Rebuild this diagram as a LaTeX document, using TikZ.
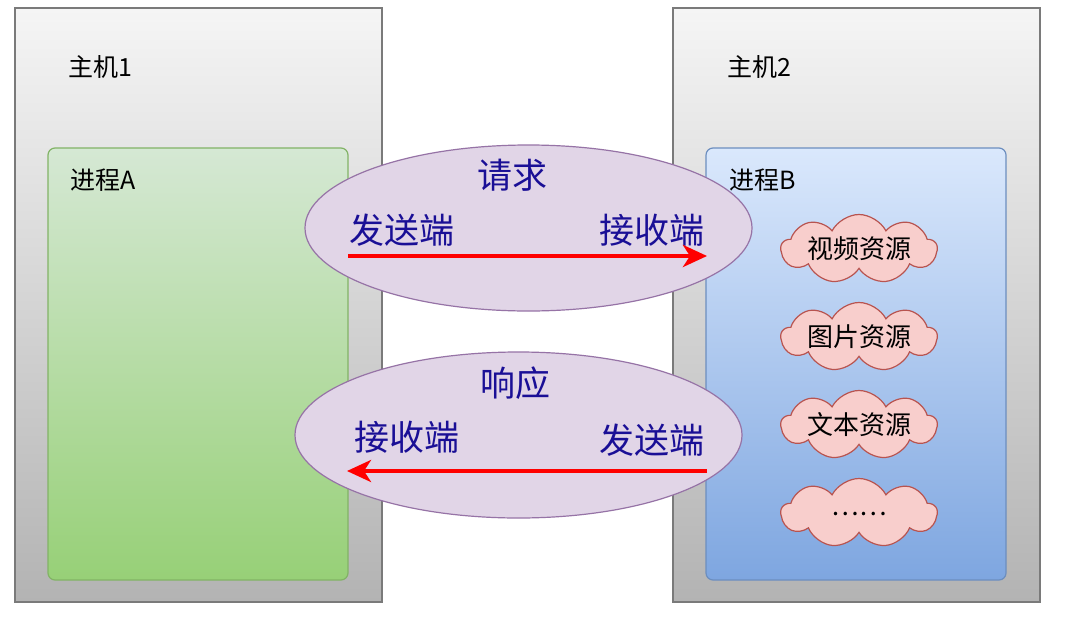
\documentclass[tikz,border=0pt]{standalone}
\usepackage{fontspec}
\setmainfont{Noto Sans CJK SC}
\usetikzlibrary{positioning,arrows.meta,shapes.geometric,shapes.symbols}

\definecolor{hostline}{HTML}{7A7A7A}
\definecolor{hosttop}{HTML}{F5F5F5}
\definecolor{hostbot}{HTML}{B3B3B3}
\definecolor{greenline}{HTML}{82B366}
\definecolor{greentop}{HTML}{D5E8D4}
\definecolor{greenbot}{HTML}{97D077}
\definecolor{blueline}{HTML}{6C8EBF}
\definecolor{bluetop}{HTML}{DAE8FC}
\definecolor{bluebot}{HTML}{7EA6E0}
\definecolor{ellfill}{HTML}{E1D5E7}
\definecolor{ellline}{HTML}{9673A6}
\definecolor{cloudfill}{HTML}{F8CECC}
\definecolor{cloudline}{HTML}{B85450}
\definecolor{navytext}{HTML}{1A0F96}

\begin{document}
\begin{tikzpicture}[x=1pt, y=-1pt,
    node distance=32.5pt,
    host/.style={draw=hostline, line width=1.2pt, top color=hosttop, bottom color=hostbot, minimum width=367pt, minimum height=594pt, inner sep=0pt},
    proc/.style={rounded corners=7pt, line width=1.2pt, minimum width=300pt, minimum height=432pt, inner sep=0pt},
    link/.style={ellipse, draw=ellline, line width=1.2pt, fill=ellfill, minimum width=447pt, minimum height=166pt, inner sep=0pt},
    caption/.style={anchor=west, inner sep=0pt, font=\fontsize{25}{30}\selectfont},
    endlabel/.style={inner sep=0pt, text=navytext, font=\fontsize{35}{40}\selectfont},
    res/.style={cloud, cloud puffs=9, cloud puff arc=125, cloud ignores aspect, draw=cloudline, line width=1.2pt, fill=cloudfill, minimum width=156pt, minimum height=69pt, inner sep=0pt, font=\fontsize{26}{30}\selectfont},
    redarrow/.style={-{Stealth[length=24pt, width=22pt, inset=7pt]}, line width=4pt, red}
]
\fill[white] (0,0) rectangle (1078,629);
\useasboundingbox (0,0) rectangle (1078,629);

% hosts and processes
\node[host] (host1) at (198.5,305) {};
\node[host] (host2) at (856.5,305) {};
\node[proc, draw=greenline, top color=greentop, bottom color=greenbot] (procA) at (198,364) {};
\node[proc, draw=blueline, top color=bluetop, bottom color=bluebot] (procB) at (856,364) {};
\node[caption] (host1Label) at (68,67) {主机1};
\node[caption] (host2Label) at (727,67) {主机2};
\node[caption] (procALabel) at (70,180) {进程A};
\node[caption] (procBLabel) at (729,180) {进程B};

% request
\node[link] (reqEll) at (528.5,228) {};
\node[endlabel] (reqTitle) at (512,175) {请求};
\node[endlabel] (reqSend) at (402,230) {发送端};
\node[endlabel] (reqRecv) at (652,230) {接收端};
\coordinate (reqFrom) at (348,256);
\coordinate (reqTo) at (707,256);
\draw[redarrow] (reqFrom) -- (reqTo);

% response
\node[link] (respEll) at (518.5,435) {};
\node[endlabel] (respTitle) at (515,383) {响应};
\node[endlabel] (respRecv) at (407,437) {接收端};
\node[endlabel] (respSend) at (652,440) {发送端};
\coordinate (respFrom) at (707,471);
\coordinate (respTo) at (347,471);
\draw[redarrow] (respFrom) -- (respTo);

% resources
\node[res] (video) at (859,249) {视频资源};
\node[res, below=of video] (picture) {图片资源};
\node[res, below=of picture] (textRes) {文本资源};
\node[res, below=of textRes] (more) {\raisebox{-5pt}{……}};
\end{tikzpicture}
\end{document}
